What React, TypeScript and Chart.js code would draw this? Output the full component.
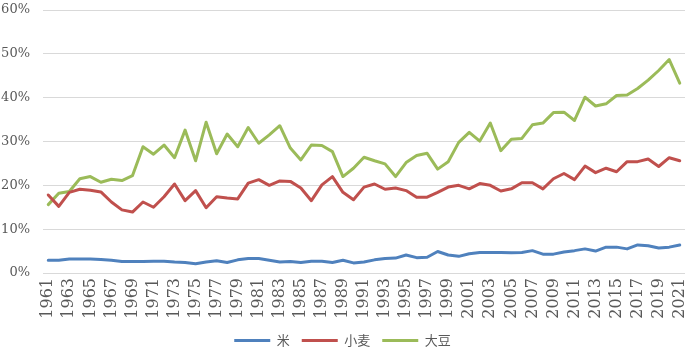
import React, { useEffect, useRef } from "react";
import { Chart, registerables } from "chart.js";

Chart.register(...registerables);

const years: string[] = [];
for (let y = 1961; y <= 2021; y++) years.push(String(y));

const rice = [
  2.9, 2.9, 3.2, 3.2, 3.2, 3.1, 2.9, 2.6, 2.6, 2.6,
  2.7, 2.7, 2.5, 2.4, 2.1, 2.5, 2.8, 2.4, 3.0, 3.3,
  3.3, 2.9, 2.5, 2.6, 2.4, 2.7, 2.7, 2.4, 2.9, 2.3,
  2.5, 3.0, 3.3, 3.4, 4.1, 3.5, 3.6, 4.9, 4.1, 3.8,
  4.4, 4.7, 4.7, 4.7, 4.6, 4.7, 5.1, 4.3, 4.3, 4.8,
  5.1, 5.5, 5.0, 5.9, 5.9, 5.5, 6.4, 6.2, 5.7, 5.9,
  6.4,
];

const wheat = [
  17.8, 15.2, 18.4, 19.1, 18.9, 18.5, 16.2, 14.4, 13.9, 16.2,
  15.0, 17.4, 20.3, 16.5, 18.8, 14.9, 17.4, 17.1, 16.9, 20.5,
  21.3, 20.0, 21.0, 20.9, 19.4, 16.5, 20.1, 22.0, 18.4, 16.7,
  19.6, 20.3, 19.1, 19.4, 18.8, 17.3, 17.3, 18.4, 19.6, 20.0,
  19.2, 20.4, 20.0, 18.7, 19.2, 20.6, 20.6, 19.2, 21.5, 22.7,
  21.3, 24.4, 22.9, 23.9, 23.1, 25.4, 25.4, 26.0, 24.3, 26.3,
  25.6,
];

const soy = [
  15.6, 18.2, 18.6, 21.5, 22.0, 20.7, 21.4, 21.1, 22.2, 28.8,
  27.1, 29.2, 26.3, 32.6, 25.6, 34.4, 27.2, 31.7, 28.8, 33.2,
  29.6, 31.5, 33.6, 28.5, 25.8, 29.2, 29.1, 27.7, 22.0, 23.9,
  26.4, 25.6, 24.9, 22.0, 25.2, 26.8, 27.3, 23.7, 25.4, 29.8,
  32.1, 30.1, 34.2, 27.9, 30.5, 30.7, 33.8, 34.2, 36.6, 36.7,
  34.8, 40.1, 38.1, 38.6, 40.5, 40.6, 42.1, 44.0, 46.2, 48.7,
  43.3,
];

const seriesNames = ["米", "小麦", "大豆"];
const seriesColors = ["#4F81BD", "#C0504D", "#9BBB59"];
const yTicks = [0, 10, 20, 30, 40, 50, 60];

export default function App() {
  const ref = useRef<HTMLCanvasElement | null>(null);

  useEffect(() => {
    if (!ref.current) return;
    const data = [rice, wheat, soy];
    const chart = new Chart(ref.current, {
      type: "line",
      data: {
        labels: years,
        datasets: data.map((d, i) => ({
          label: seriesNames[i],
          data: d,
          borderColor: seriesColors[i],
          backgroundColor: seriesColors[i],
          borderWidth: 3,
          pointRadius: 0,
          tension: 0,
          fill: false,
          borderJoinStyle: "round" as const,
          borderCapStyle: "round" as const,
        })),
      },
      options: {
        animation: false,
        responsive: false,
        maintainAspectRatio: false,
        layout: { padding: { top: 10, right: 3, left: 0, bottom: -5 } },
        plugins: {
          tooltip: { enabled: false },
          legend: {
            position: "bottom",
            labels: {
              boxWidth: 36,
              boxHeight: 3,
              padding: 12,
              color: "#595959",
              font: { family: "'Noto Sans CJK JP'", size: 13 },
              generateLabels: (c: any) =>
                Chart.defaults.plugins.legend.labels
                  .generateLabels(c)
                  .map((l: any) => ({ ...l, lineWidth: 0 })),
            },
          },
        },
        scales: {
          x: {
            offset: true,
            grid: { display: false, drawTicks: false },
            border: { display: false },
            afterFit: (axis: any) => {
              axis.height = 49;
              axis.paddingLeft = 0;
              axis.paddingRight = 0;
            },
            ticks: {
              autoSkip: false,
              maxRotation: 90,
              minRotation: 90,
              padding: 5,
              color: "#595959",
              font: { family: "'DejaVu Serif'", size: 16 },
              callback: (_v: any, i: number) => (i % 2 === 0 ? years[i] : ""),
            },
          },
          y: {
            min: 0,
            max: 60,
            afterBuildTicks: (axis: any) => {
              axis.ticks = yTicks.map((v) => ({ value: v }));
            },
            afterFit: (axis: any) => {
              axis.width = 43;
              axis.paddingTop = 0;
              axis.paddingBottom = 0;
            },
            grid: { color: "#D9D9D9", drawTicks: false, lineWidth: 1 },
            border: { display: false },
            ticks: {
              padding: 13,
              color: "#595959",
              font: { family: "'DejaVu Serif'", size: 13 },
              callback: (v: any) => v + "%",
            },
          },
        },
      },
    });
    return () => chart.destroy();
  }, []);

  return (
    <div style={{ position: "fixed", left: 0, top: 0, width: 688, height: 352, background: "#fff" }}>
      <canvas ref={ref} width={688} height={352} style={{ width: 688, height: 352 }} />
    </div>
  );
}
